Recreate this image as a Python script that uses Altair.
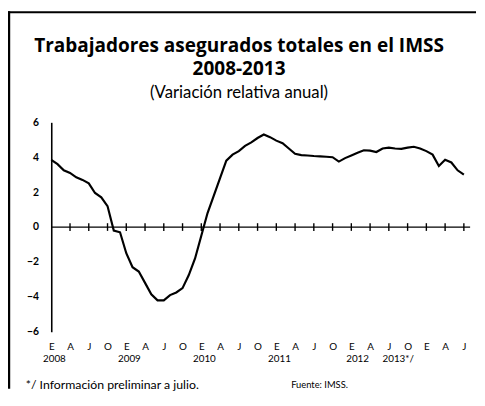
import altair as alt
import pandas as pd

# Annual relative change, monthly, Jan 2008 .. Jul 2013
values = [3.85, 3.6, 3.25, 3.1, 2.85, 2.7, 2.5, 1.95, 1.7, 1.2, -0.2, -0.3,
          -1.5, -2.3, -2.55, -3.2, -3.85, -4.2, -4.2, -3.9, -3.75, -3.5, -2.75, -1.8,
          -0.5, 0.8, 1.8, 2.8, 3.8, 4.15, 4.35, 4.65, 4.85, 5.1, 5.3, 5.15,
          4.95, 4.8, 4.5, 4.2, 4.12, 4.1, 4.07, 4.05, 4.03, 4.0, 3.75, 3.95,
          4.1, 4.25, 4.4, 4.38, 4.3, 4.5, 4.55, 4.5, 4.48, 4.55, 4.6, 4.5,
          4.35, 4.15, 3.5, 3.85, 3.7, 3.25, 3.0]
months = list(range(len(values)))
quarter_ticks = list(range(3, 67, 3))
quarter_label_values = list(range(0, 67, 3))
years = ["2008", "2009", "2010", "2011", "2012", "2013*/"]
year_pos = [0.5, 12.5, 24.5, 36.5, 49, 55.5]
y_ticks = [-6, -4, -2, 0, 2, 4, 6]

title1 = "Trabajadores asegurados totales en el IMSS"
title2 = "2008-2013"
subtitle = "(Variación relativa anual)"
note = "*/ Información preliminar a julio."
source = "Fuente: IMSS."

FONT = "Lato"
TFONT = "Open Sans"
W, H = 426, 213

df = pd.DataFrame({"m": months, "v": values})
tick_df = pd.DataFrame({"tm": quarter_ticks})
zero_df = pd.DataFrame({"m": [0], "m2": [67], "v": [0]})
year_df = pd.DataFrame({"m": year_pos, "label": years})

xscale = alt.Scale(domain=[0, 67], nice=False, zero=False)
yscale = alt.Scale(domain=[-6, 6], nice=False)

xaxis = alt.Axis(values=quarter_label_values, title=None, domain=False, ticks=False,
                 grid=False, labelExpr="['E','A','J','O'][round(datum.value/3)%4]",
                 labelFontSize=10, labelPadding=10, labelColor="black",
                 labelFont=FONT, labelFlush=False, labelOverlap=False)
yaxis = alt.Axis(values=y_ticks, title=None, grid=False, ticks=False,
                 domainColor="black", domainWidth=1.6, labelFontSize=10.5,
                 labelPadding=13, labelColor="black", labelFont=FONT,
                 labelFontWeight="bold", labelOverlap=False)

X = alt.X("m:Q", scale=xscale, axis=xaxis)
Y = alt.Y("v:Q", scale=yscale, axis=yaxis)

line = alt.Chart(df).mark_line(color="black", strokeWidth=2.2).encode(x=X, y=Y)

zero = alt.Chart(zero_df).mark_rule(color="black", strokeWidth=1.3).encode(
    x=X, x2="m2:Q", y=Y)

ticks = alt.Chart(tick_df).mark_rule(color="black", strokeWidth=1.4).encode(
    x=alt.X("tm:Q", scale=xscale, axis=xaxis),
    y=alt.Y(datum=-0.22, scale=yscale, axis=yaxis), y2=alt.Y2(datum=0.22))

year_text = alt.Chart(year_df).mark_text(font=FONT, fontSize=10, color="black",
                                         baseline="middle", align="center").encode(
    x=X, y=alt.value(H + 28), text="label:N")

def label(txt, x, y, size, weight="normal", align="center", font=FONT):
    return alt.Chart(pd.DataFrame({"t": [txt]})).mark_text(
        font=font, fontSize=size, fontWeight=weight, color="black",
        align=align, baseline="middle").encode(
        x=alt.value(x), y=alt.value(y), text="t:N")

texts = [
    label(title1, 191, -78, 19.3, "bold", font=TFONT),
    label(title2, 191, -54, 19.3, "bold", font=TFONT),
    label(subtitle, 191, -30, 17),
    label(note, -26, 267, 12.5, align="left"),
    label(source, 244, 267, 9.5, align="left"),
]

frame_left = alt.Chart(pd.DataFrame({"k": [0]})).mark_rule(color="black", strokeWidth=2.5).encode(
    x=alt.value(-43), y=alt.value(-113), y2=alt.value(H + 58))
frame_top = alt.Chart(pd.DataFrame({"k": [0]})).mark_rule(color="black", strokeWidth=2).encode(
    x=alt.value(-44), x2=alt.value(W + 6), y=alt.value(-112))

chart = alt.layer(line, zero, ticks, year_text, *texts, frame_left, frame_top).properties(
    width=W, height=H,
    autosize=alt.AutoSizeParams(type="none"),
    padding={"left": 44, "top": 113, "right": 7, "bottom": 58},
    background="white",
).configure_view(stroke=None)

chart.save("out.html", embed_options={"renderer": "svg", "actions": False})
